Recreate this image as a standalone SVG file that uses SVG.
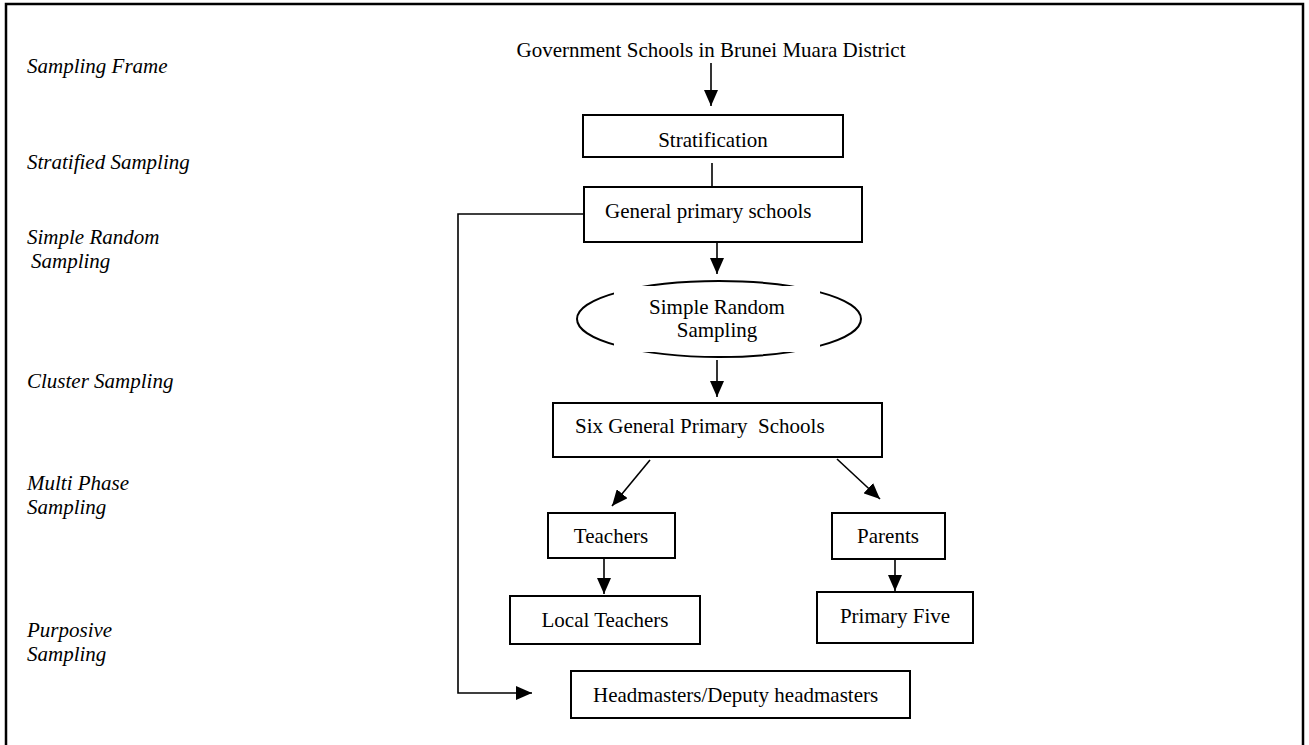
<svg xmlns="http://www.w3.org/2000/svg" width="1309" height="745" viewBox="0 0 1309 745">
  <style>
    .box { fill: #ffffff; stroke: #000000; stroke-width: 2; }
    .t { font-family: "Liberation Serif", "Times New Roman", serif; font-size: 21px; fill: #000000; }
    .lbl { font-family: "Liberation Serif", "Times New Roman", serif; font-size: 21px; font-style: italic; fill: #000000; }
    .c { text-anchor: middle; }
    .ln { fill: none; stroke: #000000; stroke-width: 1.6; }
  </style>
  <defs>
    <marker id="arrow" markerUnits="userSpaceOnUse" markerWidth="16" markerHeight="14" refX="16" refY="7" orient="auto">
      <path d="M0,0 L16,7 L0,14 z" fill="#000000"/>
    </marker>
  </defs>

  <rect width="1309" height="745" fill="#ffffff"/>
  <!-- outer frame (open at the bottom) -->
  <path d="M6,745 V4 H1303 V745" fill="none" stroke="#000000" stroke-width="2.5"/>

  <!-- sampling stage labels -->
  <g id="stage-labels">
    <text class="lbl" x="27" y="73">Sampling Frame</text>
    <text class="lbl" x="27" y="169">Stratified Sampling</text>
    <text class="lbl" x="27" y="244">Simple Random</text>
    <text class="lbl" x="31" y="268">Sampling</text>
    <text class="lbl" x="27" y="388">Cluster Sampling</text>
    <text class="lbl" x="27" y="490">Multi Phase</text>
    <text class="lbl" x="27" y="514">Sampling</text>
    <text class="lbl" x="27" y="637">Purposive</text>
    <text class="lbl" x="27" y="661">Sampling</text>
  </g>

  <g id="frame-title">
    <text class="t c" x="711" y="57">Government Schools in Brunei Muara District</text>
  </g>

  <g id="stratification">
    <rect class="box" x="583" y="115" width="260" height="42"/>
    <text class="t c" x="713" y="147">Stratification</text>
  </g>

  <g id="general-primary">
    <rect class="box" x="584" y="187" width="278" height="55"/>
    <text class="t" x="605" y="218">General primary schools</text>
  </g>

  <g id="random-sampling">
    <ellipse cx="719" cy="319" rx="142" ry="38" fill="#ffffff" stroke="#000000" stroke-width="2"/>
    <rect x="614" y="286" width="206" height="66" fill="#ffffff"/>
    <text class="t c" x="717" y="314">Simple Random</text>
    <text class="t c" x="717" y="337">Sampling</text>
  </g>

  <g id="six-schools">
    <rect class="box" x="553" y="403" width="329" height="54"/>
    <text class="t" x="575" y="433" xml:space="preserve">Six General Primary  Schools</text>
  </g>

  <g id="teachers">
    <rect class="box" x="548" y="513" width="127" height="45"/>
    <text class="t c" x="611" y="543">Teachers</text>
  </g>

  <g id="parents">
    <rect class="box" x="832" y="513" width="113" height="46"/>
    <text class="t c" x="888" y="543">Parents</text>
  </g>

  <g id="local-teachers">
    <rect class="box" x="510" y="596" width="190" height="48"/>
    <text class="t c" x="605" y="627">Local Teachers</text>
  </g>

  <g id="primary-five">
    <rect class="box" x="817" y="592" width="156" height="51"/>
    <text class="t c" x="895" y="623">Primary Five</text>
  </g>

  <g id="headmasters">
    <rect class="box" x="571" y="671" width="339" height="47"/>
    <text class="t" x="593" y="702">Headmasters/Deputy headmasters</text>
  </g>

  <g id="connectors">
    <line class="ln" x1="711" y1="63" x2="711" y2="106" marker-end="url(#arrow)"/>
    <line class="ln" x1="712" y1="163" x2="712" y2="187"/>
    <line class="ln" x1="717" y1="242" x2="717" y2="274" marker-end="url(#arrow)"/>
    <line class="ln" x1="717" y1="360" x2="717" y2="397" marker-end="url(#arrow)"/>
    <path class="ln" d="M583,214 H458 V693 H532" marker-end="url(#arrow)"/>
    <line class="ln" x1="650" y1="460" x2="612" y2="506" marker-end="url(#arrow)"/>
    <line class="ln" x1="837" y1="459" x2="880" y2="499" marker-end="url(#arrow)"/>
    <line class="ln" x1="604" y1="558" x2="604" y2="594" marker-end="url(#arrow)"/>
    <line class="ln" x1="895" y1="559" x2="895" y2="591" marker-end="url(#arrow)"/>
  </g>
</svg>
